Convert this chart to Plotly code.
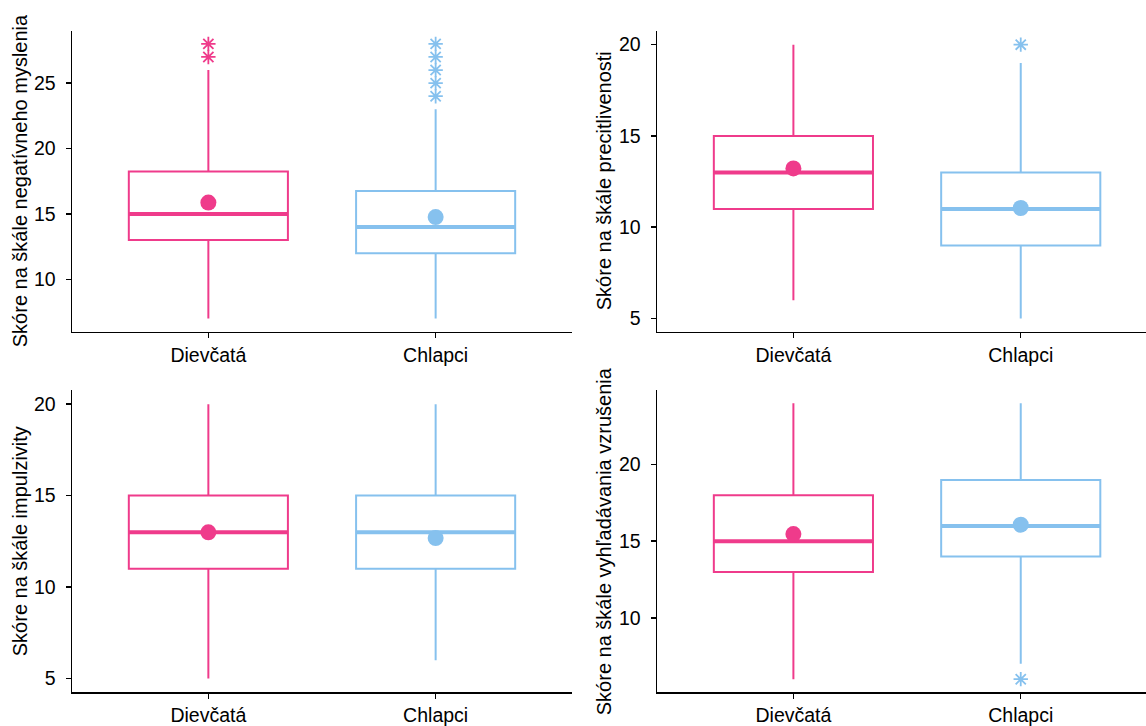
import plotly.graph_objects as go

# ---------------- data ----------------
categories = ["Dievčatá", "Chlapci"]
colors = ["#EF3B8B", "#86C1EE"]

# Panel 1: negatívne myslenie
neg_title = "Skóre na škále negatívneho myslenia"
neg_q1 = [13, 12]
neg_median = [15, 14]
neg_q3 = [18.25, 16.75]
neg_lower = [7, 7]
neg_upper = [26, 23]
neg_mean = [15.87, 14.76]
neg_outliers = [[27, 28], [24, 25, 26, 27, 28]]

# Panel 2: precitlivenosť
pre_title = "Skóre na škále precitlivenosti"
pre_q1 = [11, 9]
pre_median = [13, 11]
pre_q3 = [15, 13]
pre_lower = [6, 5]
pre_upper = [20, 19]
pre_mean = [13.22, 11.05]
pre_outliers = [[], [20]]

# Panel 3: impulzivita
imp_title = "Skóre na škále impulzivity"
imp_q1 = [11, 11]
imp_median = [13, 13]
imp_q3 = [15, 15]
imp_lower = [5, 6]
imp_upper = [20, 20]
imp_mean = [12.99, 12.68]
imp_outliers = [[], []]

# Panel 4: vyhľadávanie vzrušenia
vzr_title = "Skóre na škále vyhľadávania vzrušenia"
vzr_q1 = [13, 14]
vzr_median = [15, 16]
vzr_q3 = [18, 19]
vzr_lower = [6, 7]
vzr_upper = [24, 24]
vzr_mean = [15.47, 16.08]
vzr_outliers = [[], [6]]

panels = [
    (neg_title, neg_q1, neg_median, neg_q3, neg_lower, neg_upper, neg_mean, neg_outliers),
    (pre_title, pre_q1, pre_median, pre_q3, pre_lower, pre_upper, pre_mean, pre_outliers),
    (imp_title, imp_q1, imp_median, imp_q3, imp_lower, imp_upper, imp_mean, imp_outliers),
    (vzr_title, vzr_q1, vzr_median, vzr_q3, vzr_lower, vzr_upper, vzr_mean, vzr_outliers),
]

y_ranges = [[6.0, 29.0], [4.27, 20.76], [4.25, 20.76], [5.15, 24.85]]
y_ticks = [[10, 15, 20, 25], [5, 10, 15, 20], [5, 10, 15, 20], [10, 15, 20]]

# ---------------- layout geometry ----------------
W, H = 1146, 726
box_width = 0.7
xpos = [1, 2]

x_domains = [
    [72 / W, 572 / W],
    [657 / W, 1.0],
    [72 / W, 572 / W],
    [657 / W, 1.0],
]
x_ranges = [[0.4, 2.6], [0.4, 2.551], [0.4, 2.6], [0.4, 2.551]]
top_dom = [1 - 334 / H, 1 - 31 / H]
bot_dom = [1 - 697 / H, 1 - 393 / H]
y_domains = [top_dom, top_dom, bot_dom, bot_dom]
title_x = [20 / W, 604 / W, 20 / W, 604 / W]

FONT = "Liberation Sans, Arial, Helvetica, sans-serif"
TICK_SIZE = 19.5
TITLE_SIZE = 20

fig = go.Figure()
layout_axes = {}
annotations = []

for p, (title, q1, med, q3, lo, hi, mean, outs) in enumerate(panels):
    n = p + 1
    xa = "x" if n == 1 else f"x{n}"
    ya = "y" if n == 1 else f"y{n}"
    for i in range(2):
        c = colors[i]
        fig.add_trace(go.Box(
            x=[xpos[i]], q1=[q1[i]], median=[med[i]], q3=[q3[i]],
            lowerfence=[lo[i]], upperfence=[hi[i]],
            width=box_width, whiskerwidth=0,
            line=dict(color=c, width=2), fillcolor="rgba(255,255,255,0)",
            boxpoints=False, showlegend=False, hoverinfo="skip",
            xaxis=xa, yaxis=ya,
        ))
        # thicker median line
        fig.add_trace(go.Scatter(
            x=[xpos[i] - box_width / 2, xpos[i] + box_width / 2],
            y=[med[i], med[i]], mode="lines",
            line=dict(color=c, width=4), showlegend=False, hoverinfo="skip",
            xaxis=xa, yaxis=ya,
        ))
        # outliers
        if outs[i]:
            fig.add_trace(go.Scatter(
                x=[xpos[i]] * len(outs[i]), y=outs[i], mode="markers",
                marker=dict(symbol="asterisk-open", size=12, color=c,
                            line=dict(color=c, width=1.8)),
                showlegend=False, hoverinfo="skip", xaxis=xa, yaxis=ya,
            ))
        # mean
        fig.add_trace(go.Scatter(
            x=[xpos[i]], y=[mean[i]], mode="markers",
            marker=dict(symbol="circle", size=16, color=c),
            showlegend=False, hoverinfo="skip", xaxis=xa, yaxis=ya,
        ))

    xkey = "xaxis" if n == 1 else f"xaxis{n}"
    ykey = "yaxis" if n == 1 else f"yaxis{n}"
    layout_axes[xkey] = dict(
        domain=x_domains[p], range=x_ranges[p], anchor=ya,
        tickmode="array", tickvals=xpos, ticktext=categories,
        showline=True, linecolor="black", linewidth=1.5,
        ticks="outside", ticklen=5, tickwidth=1.5, tickcolor="black",
        showgrid=False, zeroline=False, fixedrange=True,
        tickfont=dict(family=FONT, size=TICK_SIZE, color="black"),
    )
    layout_axes[ykey] = dict(
        domain=y_domains[p], range=y_ranges[p], anchor=xa,
        tickmode="array", tickvals=y_ticks[p],
        showline=True, linecolor="black", linewidth=1.5,
        ticks="outside", ticklen=5, tickwidth=1.5, tickcolor="black",
        showgrid=False, zeroline=False, fixedrange=True,
        ticklabelstandoff=6,
        tickfont=dict(family=FONT, size=TICK_SIZE, color="black"),
    )
    annotations.append(dict(
        text=title, xref="paper", yref="paper",
        x=title_x[p], y=(y_domains[p][0] + y_domains[p][1]) / 2,
        xanchor="center", yanchor="middle", textangle=-90, showarrow=False,
        font=dict(family=FONT, size=TITLE_SIZE, color="black"),
    ))

fig.update_layout(
    width=W, height=H, autosize=False,
    margin=dict(l=0, r=0, t=0, b=0),
    paper_bgcolor="white", plot_bgcolor="white",
    showlegend=False, annotations=annotations,
    **layout_axes,
)

fig.write_html(
    "out.html",
    config={"displayModeBar": False, "staticPlot": True},
    post_script="document.body.style.margin='0';document.body.style.overflow='hidden';",
)
